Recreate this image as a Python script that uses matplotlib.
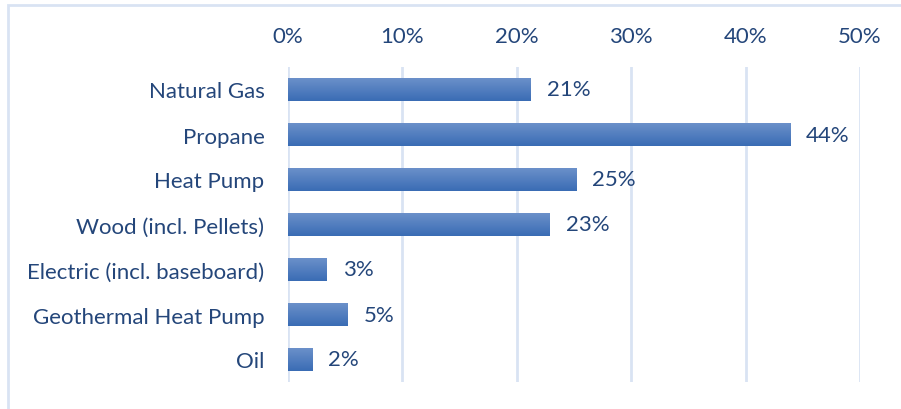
"""Horizontal bar chart: primary heating fuel shares."""

import matplotlib.pyplot as plt
import numpy as np
from matplotlib.patches import Rectangle
from matplotlib.ticker import FuncFormatter

categories = ["Natural Gas", "Propane", "Heat Pump", "Wood (incl. Pellets)",
              "Electric (incl. baseboard)", "Geothermal Heat Pump", "Oil"]
shares = [21.2, 43.9, 25.2, 22.9, 3.4, 5.2, 2.1]
ticks = [0, 10, 20, 30, 40, 50]

TEXT = "#24467A"
GRID = "#D9E3F3"
TOP = np.array([0x6D, 0x92, 0xCB]) / 255
BOT = np.array([0x3A, 0x6C, 0xB4]) / 255

plt.rcParams["font.family"] = ["Lato", "DejaVu Sans"]

fig = plt.figure(figsize=(9.01, 4.10), dpi=100)
ax = fig.add_axes([288 / 901, 1 - 383 / 410, 572 / 901, 315 / 410])

ypos = np.arange(len(categories))
bars = ax.barh(ypos, shares, height=0.53, color=BOT, zorder=2)

# vertical gradient on each bar
grad = np.linspace(0, 1, 64)[:, None, None] * (BOT - TOP) + TOP
for b in bars:
    x0, y0 = b.get_x(), b.get_y()
    w, h = b.get_width(), b.get_height()
    im = ax.imshow(grad, extent=(x0, x0 + w, y0 + h, y0), aspect="auto",
                   zorder=3, interpolation="bilinear")
    im.set_clip_path(b)

for y, v in zip(ypos, shares):
    ax.text(v + 1.4, y, f"{round(v)}%", va="center", ha="left",
            fontsize=16, color=TEXT)

ax.set_xlim(0, 50)
ax.set_ylim(len(categories) - 0.5, -0.5)
ax.set_xticks(ticks)
ax.xaxis.set_major_formatter(FuncFormatter(lambda v, _: f"{v:.0f}%"))
ax.xaxis.tick_top()
ax.tick_params(axis="x", length=0, pad=15, labelsize=16, labelcolor=TEXT)
ax.set_yticks(ypos)
ax.set_yticklabels(categories)
ax.tick_params(axis="y", length=0, pad=17, labelsize=16, labelcolor=TEXT)
ax.grid(axis="x", color=GRID, lw=2)
ax.set_axisbelow(True)
for s in ax.spines.values():
    s.set_visible(False)

fig.patches.append(Rectangle((8 / 901, -0.1), 1.2, 1 - 6 / 410 + 0.1,
                             transform=fig.transFigure, fill=False,
                             edgecolor=GRID, lw=2))

fig.savefig("out.png", dpi=100)
